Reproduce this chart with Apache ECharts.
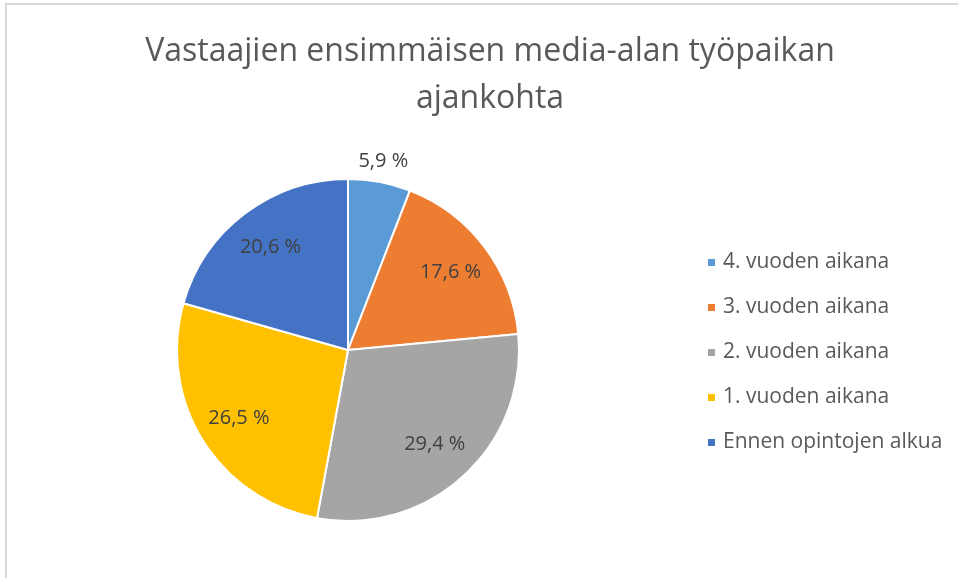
<!DOCTYPE html>
<html>
<head>
<meta charset="utf-8">
<script src="https://cdn.jsdelivr.net/npm/echarts@6/dist/echarts.min.js"></script>
<style>
html, body { margin: 0; padding: 0; background: #fff; }
#frame {
    position: absolute; left: 5px; top: 3px; width: 953px; height: 575px;
    border-left: 2px solid #d9d9d9; border-top: 2px solid #d9d9d9;
}
#chart { position: absolute; left: 0; top: 0; width: 958px; height: 578px; }
</style>
</head>
<body>
<div id="frame"></div>
<div id="chart"></div>
<script>
var titleText = 'Vastaajien ensimmäisen media-alan työpaikan\najankohta';
var categories = ['4. vuoden aikana', '3. vuoden aikana', '2. vuoden aikana', '1. vuoden aikana', 'Ennen opintojen alkua'];
var shares = [5.9, 17.6, 29.4, 26.5, 20.6];
var colors = ['#5B9BD5', '#ED7D31', '#A5A5A5', '#FFC000', '#4472C4'];

var font = '"Open Sans", sans-serif';
var outsideIdx = 0; // the small slice has its label outside the pie

function fmt(v) {
    return v.toFixed(1).replace('.', ',') + ' %';
}

var chart = echarts.init(document.getElementById('chart'));

var mainData = categories.map(function (c, i) {
    return { name: c, value: shares[i], itemStyle: { color: colors[i] } };
});

// transparent rings, only there to carry the labels
function labelRing(showFn) {
    return categories.map(function (c, i) {
        return {
            name: c,
            value: shares[i],
            itemStyle: { color: 'rgba(0,0,0,0)' },
            label: { show: showFn(i) }
        };
    });
}

var labelStyle = {
    position: 'inside',
    formatter: function (p) { return fmt(p.value); },
    fontFamily: font,
    fontSize: 20,
    color: '#404040'
};

chart.setOption({
    animation: false,
    color: colors,
    title: {
        text: titleText,
        left: 485,
        top: 23,
        textAlign: 'center',
        textStyle: {
            fontFamily: font,
            fontSize: 32,
            fontWeight: 'normal',
            color: '#595959',
            lineHeight: 47
        }
    },
    legend: {
        orient: 'vertical',
        left: 701,
        top: 247,
        itemWidth: 9,
        itemHeight: 9,
        itemGap: 24,
        icon: 'rect',
        data: categories,
        textStyle: {
            fontFamily: font,
            fontSize: 21,
            color: '#595959',
            padding: [0, 0, 0, 2]
        }
    },
    series: [
        {
            name: 'main',
            type: 'pie',
            center: [348, 350],
            radius: [0, 171],
            startAngle: 90,
            clockwise: true,
            itemStyle: { borderColor: '#fff', borderWidth: 2 },
            emphasis: { disabled: true },
            label: { show: false },
            labelLine: { show: false },
            data: mainData
        },
        {
            name: 'inner labels',
            type: 'pie',
            silent: true,
            legendHoverLink: false,
            center: [348, 350],
            radius: [80, 171],
            startAngle: 90,
            clockwise: true,
            emphasis: { disabled: true },
            label: labelStyle,
            labelLine: { show: false },
            data: labelRing(function (i) { return i !== outsideIdx; })
        },
        {
            name: 'outer labels',
            type: 'pie',
            silent: true,
            legendHoverLink: false,
            center: [348, 350],
            radius: [171, 206],
            startAngle: 90,
            clockwise: true,
            emphasis: { disabled: true },
            label: labelStyle,
            labelLine: { show: false },
            data: labelRing(function (i) { return i === outsideIdx; })
        }
    ]
});
</script>
</body>
</html>
